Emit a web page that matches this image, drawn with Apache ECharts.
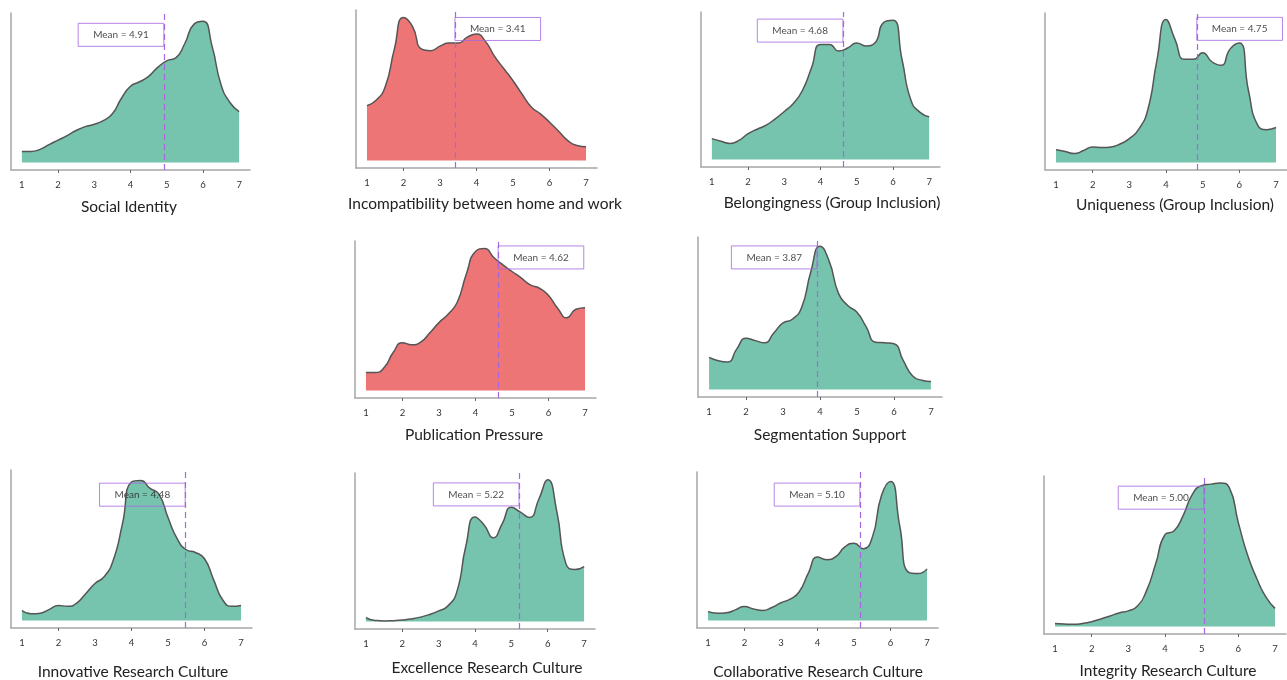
<!DOCTYPE html>
<html><head><meta charset="utf-8">
<script src="https://cdn.jsdelivr.net/npm/echarts@6/dist/echarts.min.js"></script>
<style>html,body{margin:0;padding:0;background:#fff}#c{width:1287px;height:680px}</style>
</head><body><div id="c"></div>
<script>
// ---- data ----
const xGrid = [1,1.25,1.5,1.75,2,2.25,2.5,2.75,3,3.25,3.5,3.75,4,4.25,4.5,4.75,5,5.25,5.5,5.75,6,6.25,6.5,6.75,7];
const xTickLabels = [1,2,3,4,5,6,7];
const titles = ['Social Identity','Incompatibility between home and work','Belongingness (Group Inclusion)','Uniqueness (Group Inclusion)',
  'Publication Pressure','Segmentation Support',
  'Innovative Research Culture','Excellence Research Culture','Collaborative Research Culture','Integrity Research Culture'];
const meanValues = [4.91,3.41,4.68,4.75,4.62,3.87,4.48,5.22,5.10,5.00];
const meanLineX  = [4.92,3.41,4.62,4.84,4.62,3.92,5.47,5.21,5.16,5.06];
const isRed = [false,true,false,false,true,false,false,false,false,false];

const socialIdentity  = [.037,.037,.044,.06,.075,.09,.107,.12,.128,.14,.163,.215,.255,.27,.288,.318,.34,.35,.398,.462,.472,.39,.26,.2,.17];
const incompatibility = [.182,.2,.245,.37,.475,.445,.37,.365,.38,.39,.39,.41,.42,.395,.345,.305,.265,.22,.178,.155,.127,.097,.066,.05,.046];
const belongingness   = [.071,.062,.055,.065,.088,.103,.117,.138,.163,.19,.234,.31,.39,.39,.368,.378,.395,.385,.395,.465,.472,.34,.2,.16,.145];
const uniqueness      = [.043,.037,.03,.04,.052,.05,.052,.062,.08,.11,.175,.34,.478,.41,.345,.345,.367,.337,.325,.38,.4,.24,.125,.11,.117];
const publication     = [.06,.06,.077,.128,.16,.153,.162,.193,.227,.255,.295,.39,.465,.475,.445,.42,.398,.377,.353,.342,.318,.275,.243,.272,.277];
const segmentation    = [.105,.094,.09,.133,.168,.16,.153,.185,.218,.23,.268,.385,.47,.42,.315,.275,.253,.205,.155,.153,.15,.095,.045,.03,.026];
const innovative      = [.033,.022,.024,.037,.05,.047,.058,.09,.123,.145,.2,.32,.46,.465,.44,.42,.342,.272,.235,.226,.205,.135,.068,.047,.05];
const excellence      = [.013,.004,.002,.003,.005,.009,.015,.024,.036,.052,.1,.255,.352,.325,.282,.33,.385,.368,.35,.41,.477,.37,.195,.175,.185];
const collaborative   = [.03,.025,.026,.036,.047,.039,.034,.044,.06,.072,.097,.16,.214,.205,.215,.248,.26,.242,.28,.42,.468,.32,.162,.158,.174];
const integrity       = [.01,.008,.007,.01,.016,.025,.035,.045,.052,.068,.12,.21,.305,.318,.37,.44,.468,.473,.477,.462,.345,.238,.16,.098,.06];
const densities = [socialIdentity,incompatibility,belongingness,uniqueness,publication,segmentation,innovative,excellence,collaborative,integrity];

// ---- layout / style ----
const layout = [
  {left:11,  top:13,  width:239, bottom:170, tx:129,  ty:207, side:'left',  boxY:.427},
  {left:356, top:10,  width:241, bottom:168, tx:485,  ty:204, side:'right', boxY:.437},
  {left:701, top:12,  width:239, bottom:167, tx:832,  ty:203, side:'left',  boxY:.437},
  {left:1045,top:13,  width:242, bottom:170, tx:1175, ty:205, side:'right', boxY:.447},
  {left:355, top:241, width:241, bottom:398, tx:474,  ty:435, side:'right', boxY:.445},
  {left:698, top:237, width:244, bottom:397, tx:830,  ty:435, side:'left',  boxY:.433},
  {left:11,  top:470, width:241, bottom:628, tx:133,  ty:672, side:'left',  boxY:.418},
  {left:355, top:473, width:240, bottom:629, tx:487,  ty:668, side:'left',  boxY:.428},
  {left:697, top:472, width:241, bottom:628, tx:818,  ty:672, side:'left',  boxY:.424},
  {left:1044,top:476, width:242, bottom:634, tx:1168, ty:671, side:'left',  boxY:.428}
];
const GREEN = '#76C4AE', RED = '#EE7576', PURPLE = '#A566DE', AXIS = '#A6A6A6';
const FONT = 'Lato, "Open Sans", sans-serif';

const grid = [], xAxis = [], yAxis = [], series = [], graphic = [];
layout.forEach((l, i) => {
  grid.push({left:l.left, top:l.top, width:l.width, height:l.bottom - l.top});
  xAxis.push({gridIndex:i, type:'value', min:0.7, max:7.3,
    axisLine:{show:true, onZero:false, lineStyle:{color:AXIS, width:1.5}},
    axisTick:{show:true, customValues:[2,4,6], length:3, lineStyle:{color:'#666'}},
    axisLabel:{customValues:xTickLabels, fontSize:9.5, color:'#333', margin:10, fontFamily:FONT},
    splitLine:{show:false}});
  yAxis.push({gridIndex:i, type:'value', min:-0.025, max:0.5,
    axisLine:{show:true, lineStyle:{color:AXIS, width:1.5}},
    axisTick:{show:false}, axisLabel:{show:false}, splitLine:{show:false}});
  series.push({type:'line', xAxisIndex:i, yAxisIndex:i, smooth:0.55, symbol:'none', silent:true,
    data: xGrid.map((x, k) => [x, densities[i][k]]),
    lineStyle:{color:'#555', width:1.5},
    areaStyle:{color: isRed[i] ? RED : GREEN, opacity:1, origin:0},
    markLine:{symbol:['none','none'], silent:true, animation:false, label:{show:false},
      lineStyle:{color:PURPLE, type:[6,4], width:1.2},
      data:[{xAxis: meanLineX[i]}]}});
  series.push({type:'scatter', xAxisIndex:i, yAxisIndex:i, symbolSize:0, silent:true, z:5,
    data:[[meanLineX[i], l.boxY]],
    label:{show:true, formatter:'Mean = ' + meanValues[i].toFixed(2), position:l.side, distance:0,
      color:'#222', fontSize:10, fontFamily:FONT, borderColor:PURPLE, borderWidth:1, padding:[7,15,6,15]}});
  graphic.push({type:'text', x:l.tx, y:l.ty, silent:true,
    style:{text:titles[i], fill:'#222', fontSize:15.5, fontFamily:FONT, align:'center', verticalAlign:'middle'}});
});

const chart = echarts.init(document.getElementById('c'));
chart.setOption({animation:false, backgroundColor:'#fff', grid, xAxis, yAxis, series, graphic});
</script>
</body></html>
